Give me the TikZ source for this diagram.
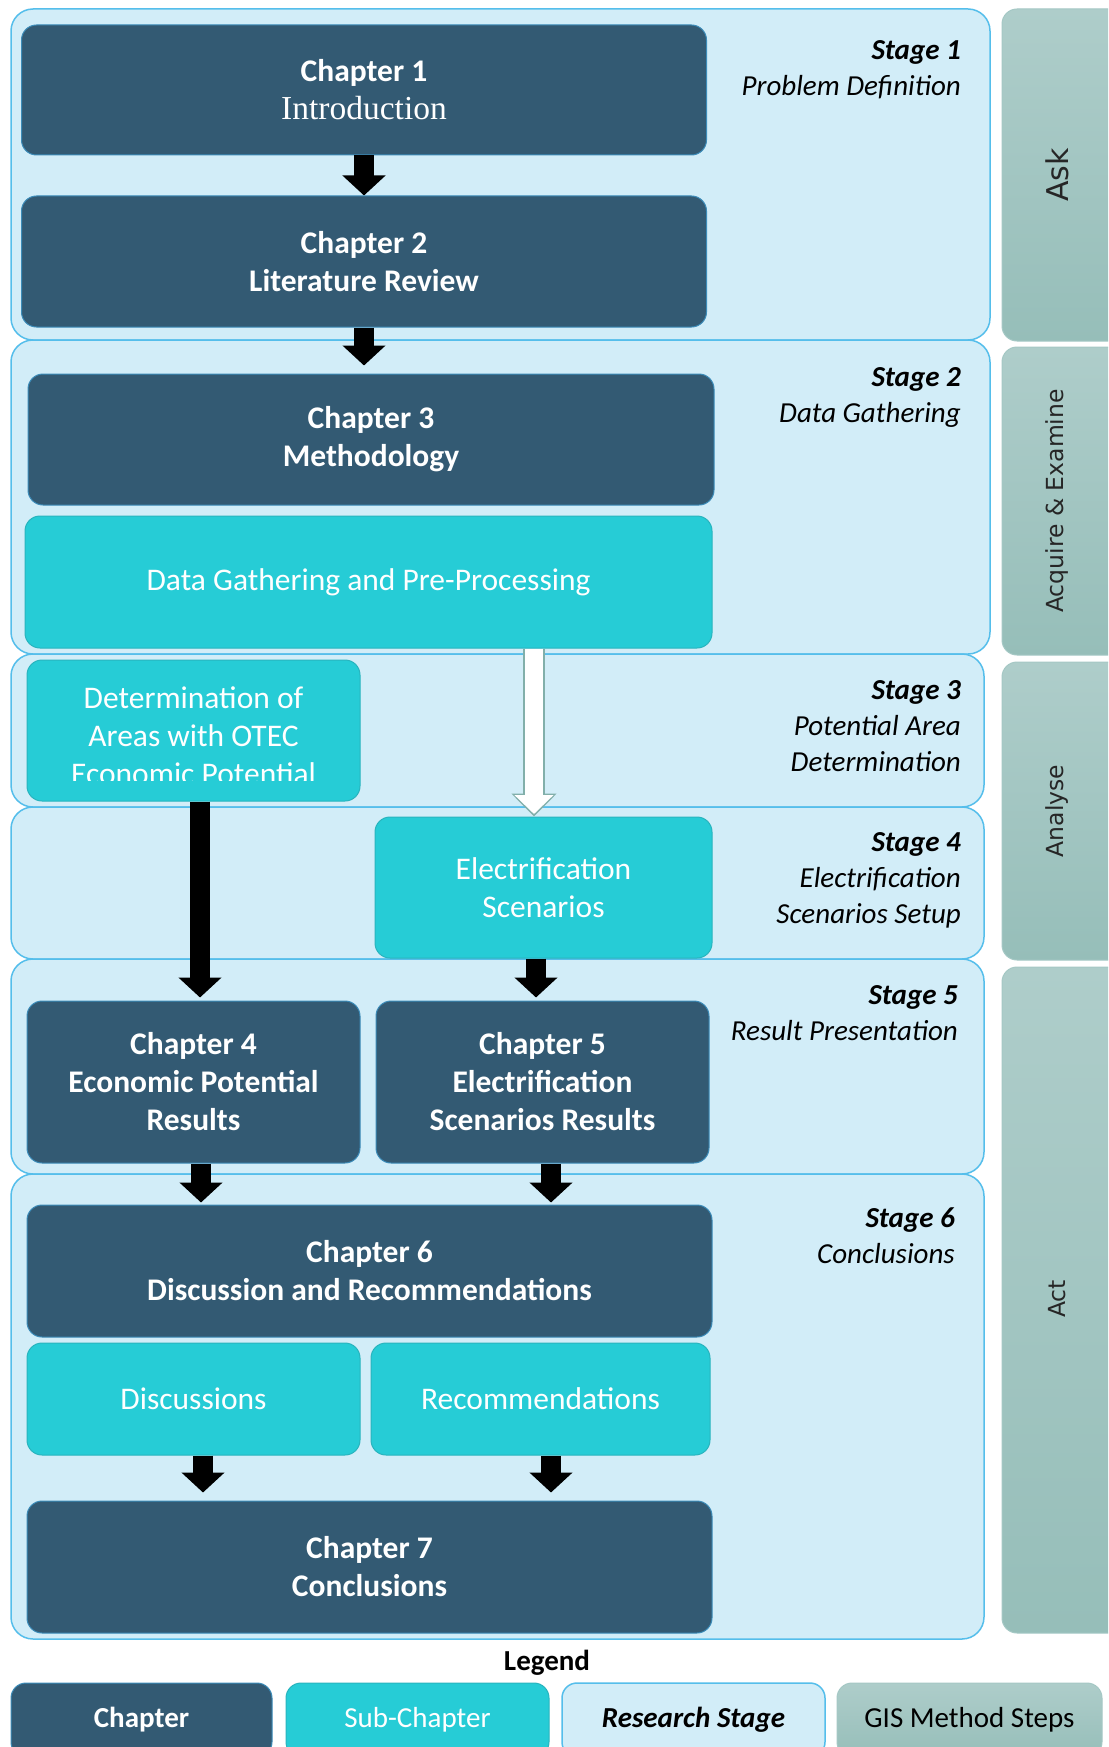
\documentclass[tikz,border=0pt]{standalone}
\usepackage{fontspec}
\setmainfont{Carlito}
\newfontfamily\introfont{Liberation Serif}
\newfontfamily\gisfont{DejaVu Sans}
\usetikzlibrary{arrows.meta}

\definecolor{chapfill}{RGB}{51,90,115}
\definecolor{chapedge}{RGB}{60,140,185}
\definecolor{subfill}{RGB}{38,204,214}
\definecolor{subedge}{RGB}{40,180,190}
\definecolor{stagefill}{RGB}{210,237,248}
\definecolor{stageedge}{RGB}{85,190,235}
\definecolor{gistop}{RGB}{174,205,202}
\definecolor{gisbot}{RGB}{150,190,185}
\definecolor{gisedge}{RGB}{165,200,197}
\definecolor{arrowedge}{RGB}{130,175,170}

\tikzset{
  chapter/.style={draw=chapedge, line width=1pt, fill=chapfill, rounded corners=15pt, text=white, align=center, inner sep=0pt, font=\fontsize{31.5}{38}\selectfont\bfseries},
  subchap/.style={draw=subedge, line width=1pt, fill=subfill, rounded corners=15pt, text=white, align=center, inner sep=0pt, font=\fontsize{31.5}{38}\selectfont},
  stagepanel/.style={draw=stageedge, line width=1.5pt, fill=stagefill, rounded corners=22pt},
  gispanel/.style={draw=gisedge, line width=1pt, top color=gistop, bottom color=gisbot, rounded corners=15pt},
  stagelabel/.style={anchor=north east, align=right, inner sep=0pt, font=\fontsize{29}{36}\selectfont\itshape},
  gislabel/.style={rotate=90, inner sep=0pt, text=black!85, font=\gisfont\fontsize{23.5}{28}\selectfont},
  legendtext/.style={font=\fontsize{29}{34}\selectfont},
  blockarrow/.style={line width=20pt, -{Triangle[length=20pt,width=42pt]}},
}

\begin{document}
\begin{tikzpicture}[x=1pt, y=-1pt]

	%Background
	\path[use as bounding box, clip] (0,0) rectangle (1108,1747);
	\fill[white] (0,0) rectangle (1108,1747);

	%Research stages
	\draw[stagepanel] (11,9) rectangle (990,340);
	\draw[stagepanel] (11,340) rectangle (990,654);
	\draw[stagepanel] (11,654) rectangle (984,807);
	\draw[stagepanel] (11,807) rectangle (984,959);
	\draw[stagepanel] (11,959) rectangle (984,1174);
	\draw[stagepanel] (11,1174) rectangle (984,1639);

	\node[stagelabel] (st1) at (961,40) {\textbf{Stage 1}\\Problem Definition};
	\node[stagelabel] (st2) at (961,367) {\textbf{Stage 2}\\Data Gathering};
	\node[stagelabel] (st3) at (961,680) {\textbf{Stage 3}\\Potential Area\\Determination};
	\node[stagelabel] (st4) at (961,832) {\textbf{Stage 4}\\Electrification\\Scenarios Setup};
	\node[stagelabel] (st5) at (958,985) {\textbf{Stage 5}\\Result Presentation};
	\node[stagelabel] (st6) at (955,1207) {\textbf{Stage 6}\\Conclusions};

	%GIS method steps
	\draw[gispanel] (1002,9) rectangle (1130,341);
	\draw[gispanel] (1002,347) rectangle (1130,655);
	\draw[gispanel] (1002,662) rectangle (1130,960);
	\draw[gispanel] (1002,967) rectangle (1130,1633);

	\node[gislabel, font=\gisfont\fontsize{30}{34}\selectfont] (ask) at (1057,175) {Ask};
	\node[gislabel] (acquire) at (1057,501) {Acquire \& Examine};
	\node[gislabel] (analyse) at (1057,811) {Analyse};
	\node[gislabel] (act) at (1057,1299) {Act};

	%Chapters and sub-chapters
	\node[chapter, minimum width=685, minimum height=130] (ch1) at (364,90) {Chapter 1\\{\introfont\mdseries\fontsize{33.5}{38}\selectfont Introduction}};
	\node[chapter, minimum width=685, minimum height=131] (ch2) at (364,261.5) {Chapter 2\\Literature Review};
	\node[chapter, minimum width=686, minimum height=131] (ch3) at (371,439.5) {Chapter 3\\Methodology};
	\node[subchap, minimum width=687, minimum height=132] (datagather) at (368.5,582) {Data Gathering and Pre-Processing};

	\node[subchap, minimum width=333, minimum height=141] (det) at (193.5,730.5) {};
	\begin{scope}
		\clip (det.north west) rectangle (360,780);
		\node[subchap, draw=none, fill=none] (dettext) at (193.5,736) {Determination of\\Areas with OTEC\\Economic Potential};
	\end{scope}
	\node[subchap, minimum width=337, minimum height=141] (elecscen) at (543.5,887.5) {Electrification\\Scenarios};

	\node[chapter, minimum width=333, minimum height=162] (ch4) at (193.5,1082) {Chapter 4\\Economic Potential\\Results};
	\node[chapter, minimum width=333, minimum height=162] (ch5) at (542.5,1082) {Chapter 5\\Electrification\\Scenarios Results};

	\node[chapter, minimum width=685, minimum height=132] (ch6) at (369.5,1271) {Chapter 6\\Discussion and Recommendations};
	\node[subchap, minimum width=333, minimum height=112] (disc) at (193.5,1399) {Discussions};
	\node[subchap, minimum width=339, minimum height=112] (recom) at (540.5,1399) {Recommendations};
	\node[chapter, minimum width=685, minimum height=132] (ch7) at (369.5,1567) {Chapter 7\\Conclusions};

	%Arrows
	\draw[blockarrow] (ch1.south) -- (ch2.north);
	\draw[blockarrow, shorten >=8pt] (ch2.south) -- (ch2.south |- ch3.north);
	\draw[line width=22pt, draw=arrowedge, -{Triangle[length=23pt,width=44pt]}] ([xshift=-9.5pt]elecscen.north |- datagather.south) -- ([xshift=-9.5pt]elecscen.north);
	\draw[line width=18pt, draw=white, -{Triangle[length=19pt,width=38pt]}, shorten >=2.5pt] ([xshift=-9.5pt]elecscen.north |- datagather.south) -- ([xshift=-9.5pt]elecscen.north);
	\draw[blockarrow, shorten >=3pt] ([xshift=6.5pt]det.south) -- ([xshift=6.5pt]ch4.north);
	\draw[blockarrow, shorten >=3pt] ([xshift=-7.5pt]elecscen.south) -- ([xshift=-7.5pt]elecscen.south |- ch5.north);
	\draw[blockarrow, shorten >=2pt] ([xshift=7.5pt]ch4.south) -- ([xshift=7.5pt]ch4.south |- ch6.north);
	\draw[blockarrow, shorten >=2pt] ([xshift=8.5pt]ch5.south) -- ([xshift=8.5pt]ch5.south |- ch6.north);
	\draw[blockarrow, shorten >=8pt] ([xshift=9.5pt]disc.south) -- ([xshift=9.5pt]disc.south |- ch7.north);
	\draw[blockarrow, shorten >=8pt] ([xshift=10.5pt]recom.south) -- ([xshift=10.5pt]recom.south |- ch7.north);

	%Legend
	\node[legendtext, font=\fontsize{29}{34}\selectfont\bfseries] (legend) at (547,1663) {Legend};
	\node[chapter, legendtext, font=\fontsize{29}{34}\selectfont\bfseries, minimum width=261, minimum height=74] (legchap) at (141.5,1720) {Chapter};
	\node[subchap, legendtext, minimum width=263, minimum height=74] (legsub) at (417.5,1720) {Sub-Chapter};
	\node[draw=stageedge, line width=1.5pt, fill=stagefill, rounded corners=15pt, legendtext, font=\fontsize{29}{34}\selectfont\bfseries\itshape, minimum width=263, minimum height=74] (legstage) at (693.5,1720) {Research Stage};
	\node[draw=gisedge, line width=1pt, top color=gistop, bottom color=gisbot, rounded corners=15pt, legendtext, minimum width=265, minimum height=74] (leggis) at (969.5,1720) {GIS Method Steps};

\end{tikzpicture}
\end{document}
